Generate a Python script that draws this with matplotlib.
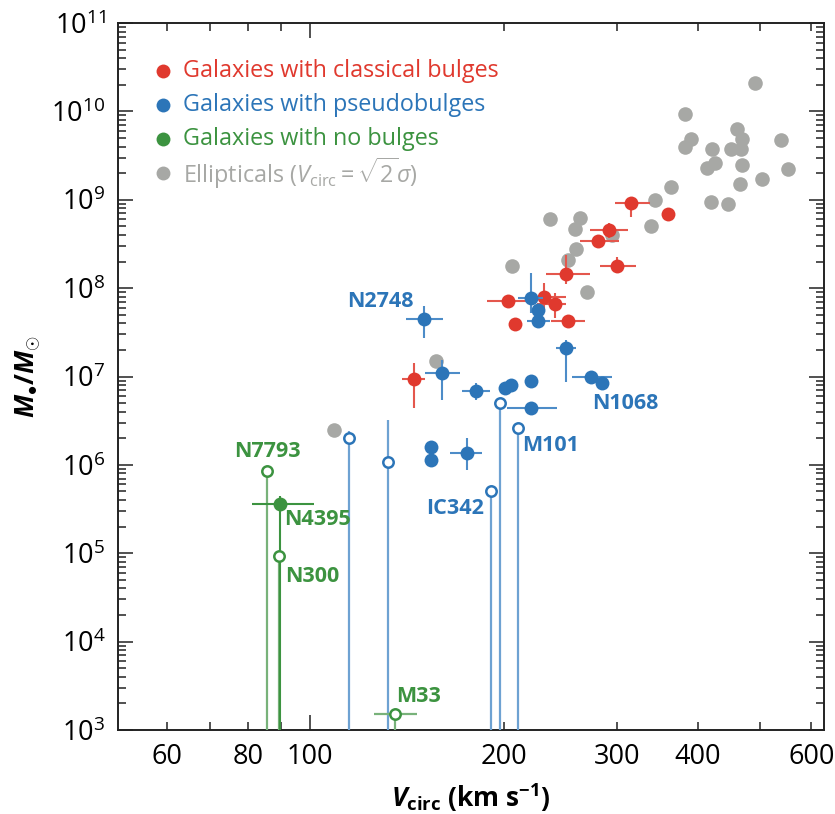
import matplotlib

matplotlib.use("Agg")
import matplotlib.pyplot as plt
import numpy as np
from matplotlib import ticker

plt.rcParams["font.family"] = ["Open Sans", "DejaVu Sans"]
plt.rcParams["mathtext.fontset"] = "custom"
plt.rcParams["mathtext.rm"] = "Open Sans"
plt.rcParams["mathtext.it"] = "Open Sans:italic"
plt.rcParams["mathtext.bf"] = "Open Sans:bold"
plt.rcParams["mathtext.bfit"] = "Open Sans:bold:italic"

RED = "#e0392e"
BLUE = "#2c75b8"
GREEN = "#3c9340"
GRAY = "#a7a8a5"
YMIN = 1e3

# Ellipticals, V_circ = sqrt(2) sigma
ell_v = [491, 382, 390, 382, 421, 460, 469, 451, 466, 425, 414, 469, 538, 552,
         503, 465, 420, 446, 364, 343, 338, 236, 262, 258, 259, 251, 206, 269,
         294, 157, 109]
ell_m = [2.1e10, 9.3e9, 4.9e9, 4.0e9, 3.8e9, 6.3e9, 4.9e9, 3.8e9, 3.8e9, 2.6e9,
         2.3e9, 2.5e9, 4.8e9, 2.2e9, 1.7e9, 1.5e9, 9.5e8, 9.0e8, 1.4e9, 1.0e9,
         5.0e8, 6.0e8, 6.2e8, 4.7e8, 2.8e8, 2.1e8, 1.8e8, 9.1e7, 4.0e8, 1.5e7,
         2.5e6]

# Classical bulges: value, then lower/upper bounds
cl_v = [315, 360, 291, 280, 300, 250, 203, 231, 240, 208, 251, 145]
cl_v_lo = [297, 360, 272, 262, 282, 232, 188, 220, 225, 208, 237, 139]
cl_v_hi = [337, 360, 312, 302, 321, 272, 222, 250, 250, 208, 267, 151]
cl_m = [9.1e8, 6.9e8, 4.6e8, 3.4e8, 1.8e8, 1.45e8, 7.2e7, 8.0e7, 6.6e7, 3.9e7,
        4.2e7, 9.3e6]
cl_m_lo = [6.4e8, 6.9e8, 3.7e8, 3.4e8, 1.5e8, 1.1e8, 7.2e7, 5.7e7, 4.6e7, 3.9e7,
           4.2e7, 4.4e6]
cl_m_hi = [1.08e9, 6.9e8, 5.4e8, 3.4e8, 2.25e8, 2.4e8, 7.2e7, 1.14e8, 8.8e7,
           3.9e7, 4.2e7, 1.43e7]

# Pseudobulges
ps_v = [220, 226, 226, 250, 273, 284, 150, 160, 181, 201, 205, 220, 220, 154,
        154, 175]
ps_v_lo = [210, 226, 217, 241, 255, 284, 141, 151, 172, 201, 205, 220, 202, 154,
           154, 165]
ps_v_hi = [230, 226, 236, 259, 294, 284, 161, 171, 190, 201, 205, 220, 242, 154,
           154, 185]
ps_m = [7.7e7, 5.7e7, 4.3e7, 2.1e7, 9.8e6, 8.4e6, 4.45e7, 1.09e7, 6.9e6, 7.4e6,
        8.0e6, 8.8e6, 4.45e6, 1.6e6, 1.14e6, 1.38e6]
ps_m_lo = [5.2e7, 5.7e7, 4.3e7, 8.7e6, 9.8e6, 8.4e6, 2.7e7, 5.4e6, 5.4e6, 7.4e6,
           8.0e6, 8.8e6, 4.45e6, 1.6e6, 1.14e6, 8.8e5]
ps_m_hi = [1.49e8, 5.7e7, 4.3e7, 2.6e7, 9.8e6, 8.4e6, 6.2e7, 1.54e7, 8.5e6,
           7.4e6, 8.0e6, 8.8e6, 4.45e6, 1.6e6, 1.14e6, 2.0e6]

# Pseudobulge upper limits (open symbols)
ps_lim_v = [115, 132, 191, 197, 210]
ps_lim_m = [2.0e6, 1.09e6, 5.1e5, 5.0e6, 2.6e6]
ps_lim_m_hi = [2.4e6, 3.2e6, 5.1e5, 5.0e6, 2.6e6]

# Bulgeless galaxies
nb_v = [89.8]
nb_v_lo = [81.2]
nb_v_hi = [101.2]
nb_m = [3.6e5]
nb_m_hi = [4.4e5]
nb_lim_v = [85.7, 89.6, 135.5]
nb_lim_v_lo = [85.7, 89.6, 125.7]
nb_lim_v_hi = [85.7, 89.6, 146.4]
nb_lim_m = [8.6e5, 9.2e4, 1.5e3]

# name, x, y, colour
labels = [
    ("N2748", 128.4, 7.0e7, BLUE),
    ("N1068", 309, 4.9e6, BLUE),
    ("M101", 236, 1.64e6, BLUE),
    ("IC342", 168, 3.2e5, BLUE),
    ("N7793", 85.8, 1.4e6, GREEN),
    ("N4395", 102.5, 2.4e5, GREEN),
    ("N300", 100.7, 5.4e4, GREEN),
    ("M33", 147.6, 2.38e3, GREEN),
]

x_major = [100]
x_minor = [50, 60, 70, 80, 90, 200, 300, 400, 500, 600]
x_labelled = [60, 80, 200, 300, 400, 600]
y_decades = np.arange(3, 12)

fig = plt.figure(figsize=(8.35, 8.14), dpi=100)
ax = fig.add_axes([118 / 835, 1 - 730 / 814, 706 / 835, 707 / 814])
ax.set_xscale("log")
ax.set_yscale("log")
ax.set_xlim(50.3, 628)
ax.set_ylim(YMIN, 1e11)


def bounds(val, lo, hi):
    val, lo, hi = np.asarray(val), np.asarray(lo), np.asarray(hi)
    return np.vstack([val - lo, hi - val])


ax.plot(ell_v, ell_m, "o", ms=10.5, color=GRAY, mec="none", zorder=2)

ax.errorbar(cl_v, cl_m, xerr=bounds(cl_v, cl_v_lo, cl_v_hi),
            yerr=bounds(cl_m, cl_m_lo, cl_m_hi), fmt="o", ms=10, color=RED,
            mec="none", ecolor="#e4574d", elinewidth=1.5, zorder=3)

ax.errorbar(ps_v, ps_m, xerr=bounds(ps_v, ps_v_lo, ps_v_hi),
            yerr=bounds(ps_m, ps_m_lo, ps_m_hi), fmt="o", ms=10, color=BLUE,
            mec="none", ecolor="#4d8cc8", elinewidth=1.5, zorder=4)

lim_m = np.asarray(ps_lim_m)
ax.errorbar(ps_lim_v, ps_lim_m,
            yerr=np.vstack([lim_m - YMIN * 0.5, np.asarray(ps_lim_m_hi) - lim_m]),
            fmt="o", ms=7.5, mfc="white", mec=BLUE, mew=1.8,
            ecolor="#6ea2d2", elinewidth=1.6, zorder=4)

nb_m_arr = np.asarray(nb_m)
ax.errorbar(nb_lim_v, nb_lim_m,
            xerr=bounds(nb_lim_v, nb_lim_v_lo, nb_lim_v_hi),
            yerr=np.vstack([np.asarray(nb_lim_m) - YMIN * 0.5, np.zeros(3)]),
            fmt="o", ms=7.5, mfc="white", mec=GREEN, mew=1.8,
            ecolor="#78b27a", elinewidth=1.6, zorder=5)
ax.errorbar(nb_v, nb_m, xerr=bounds(nb_v, nb_v_lo, nb_v_hi),
            yerr=np.vstack([nb_m_arr - YMIN * 0.5, np.asarray(nb_m_hi) - nb_m_arr]),
            fmt="o", ms=10, color=GREEN, mec="none", ecolor=GREEN,
            elinewidth=1.5, zorder=5)

for name, x, y, col in labels:
    ax.text(x, y, name, color=col, fontsize=15.5, fontweight="bold",
            ha="center", va="center", zorder=6)

# legend drawn as coloured text rows
legend_rows = [
    ("Galaxies with classical bulges", RED),
    ("Galaxies with pseudobulges", BLUE),
    ("Galaxies with no bulges", GREEN),
    (r"Ellipticals ($V_{\rm circ} = \sqrt{2}\sigma$)", GRAY),
]
for i, (txt, col) in enumerate(legend_rows):
    yy = 1 - (70.7 + 34.2 * i - 23) / 707
    ax.plot(0.064, yy, "o", ms=10, color=col, mec="none",
            transform=ax.transAxes, clip_on=False)
    ax.text(0.092, yy, txt, color=col, fontsize=16.8, va="center", ha="left",
            transform=ax.transAxes)

ax.xaxis.set_major_locator(ticker.FixedLocator(x_major))
ax.xaxis.set_minor_locator(ticker.FixedLocator(x_minor))
ax.xaxis.set_major_formatter(ticker.FuncFormatter(lambda v, p: f"{v:g}"))
ax.xaxis.set_minor_formatter(ticker.FuncFormatter(
    lambda v, p: f"{v:g}" if round(v) in x_labelled else ""))

y_major = 10.0 ** y_decades
y_minor = [s * d for d in y_major[:-1] for s in range(2, 10)]
ax.yaxis.set_major_locator(ticker.FixedLocator(y_major))
ax.yaxis.set_minor_locator(ticker.FixedLocator(y_minor))
ax.yaxis.set_minor_formatter(ticker.NullFormatter())
ax.yaxis.set_major_formatter(ticker.LogFormatterMathtext())

ax.tick_params(which="both", direction="in", top=True, right=True,
               labelsize=19.5, width=1.1, color="#222222", pad=9)
ax.tick_params(which="major", length=10.5)
ax.tick_params(which="minor", length=5.5)
for sp in ax.spines.values():
    sp.set_linewidth(1.4)
    sp.set_color("#222222")

ax.set_xlabel(r"$\mathbfit{V}_{\mathbf{circ}}$ (km s$^{\mathbf{-1}}$)",
              fontsize=19, fontweight="bold", labelpad=8)
ax.set_ylabel(r"$\mathbfit{M}_{\bullet}\mathbf{/}\mathbfit{M}_{\odot}$",
              fontsize=19, fontweight="bold", labelpad=6)

fig.savefig("out.png", dpi=100)
